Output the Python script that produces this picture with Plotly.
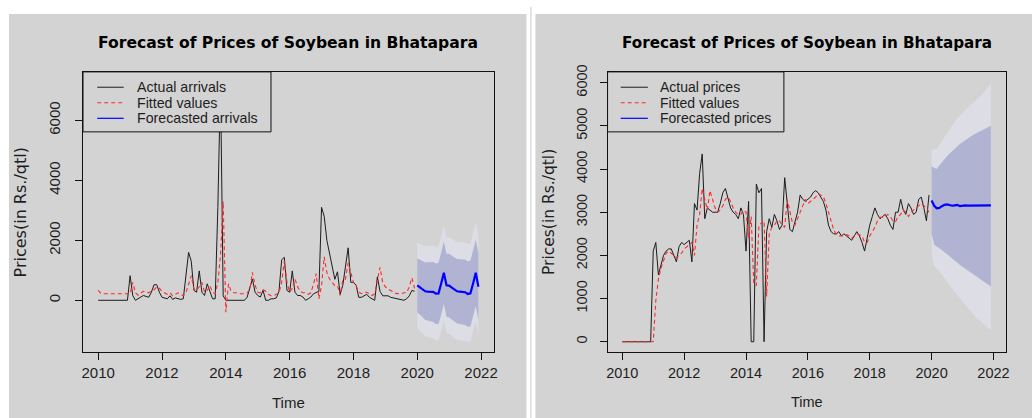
import numpy as np
import plotly.graph_objects as go

# ---------------- data ----------------
# monthly series, Jan 2010 .. Dec 2019
arrivals = [
    0, 0, 0, 0, 0, 0, 0, 0, 0, 0, 0, 0,
    820, 160, 0, 50, 100, 160, 130, 100, 270, 520, 520, 270,
    100, 80, 50, 150, 30, 80, 50, 30, 50, 800, 1600, 1300,
    330, 270, 980, 270, 160, 550, 270, 50, 50, 3100, 7270, 150,
    0, 0, 0, 0, 0, 0, 0, 0, 100, 400, 710, 270,
    160, 110, 330, 0, 0, 50, 50, 80, 300, 1350, 1430, 330,
    270, 980, 270, 160, 160, 110, 0, 50, 110, 220, 270, 300,
    3100, 2800, 2000, 1600, 1200, 700, 950, 200, 500, 1200, 1750, 600,
    600, 500, 100, 100, 150, 200, 100, 50, 0, 780, 300, 150,
    150, 150, 100, 80, 50, 30, 0, 0, 50, 150, 330, 300,
]
fitted_arrivals = [
    330, 230, 220, 220, 220, 220, 220, 220, 220, 220, 220, 220,
    220, 600, 250, 170, 250, 300, 280, 250, 300, 350, 450, 400,
    300, 250, 200, 250, 150, 200, 250, 200, 150, 250, 500, 820,
    380, 330, 450, 600, 270, 330, 490, 270, 220, 600, 1500, 3300,
    -400, 550, 300, 250, 250, 220, 220, 220, 250, 350, 930, 500,
    270, 250, 350, 300, 200, 150, 150, 200, 250, 600, 1310, 600,
    270, 400, 710, 450, 300, 250, 250, 200, 250, 550, 890, 50,
    490, 1450, 930, 710, 600, 490, 490, 160, 690, 700, 1250, 930,
    600, 490, 270, 220, 270, 270, 220, 160, 220, 710, 1100, 600,
    450, 380, 330, 270, 230, 220, 220, 250, 250, 450, 750, 400,
]
# forecast Jan 2020 .. Dec 2021
fc_arrivals = [500, 430, 380, 300, 290, 290, 280, 220, 230, 560, 920, 500,
               490, 420, 360, 300, 290, 280, 270, 210, 230, 560, 920, 450]
hi80_arrivals = [1400, 1350, 1320, 1260, 1270, 1280, 1280, 1230, 1250, 1590, 1960, 1550,
                 1550, 1485, 1430, 1375, 1370, 1365, 1360, 1305, 1330, 1665, 2030, 1565]
lo80_arrivals = [-400, -490, -560, -660, -690, -700, -720, -790, -790, -470, -120, -550,
                 -570, -645, -710, -775, -790, -805, -820, -885, -870, -545, -190, -665]
hi95_arrivals = [1920, 1880, 1860, 1800, 1810, 1830, 1830, 1780, 1800, 2140, 2510, 2100,
                 2100, 2040, 1990, 1940, 1940, 1935, 1930, 1875, 1900, 2235, 2600, 2135]
lo95_arrivals = [-920, -1020, -1100, -1200, -1230, -1250, -1270, -1340, -1340, -1020, -670, -1100,
                 -1120, -1200, -1270, -1320, -1330, -1340, -1350, -1380, -1370, -1060, -700, -1200]

prices = [
    0, 0, 0, 0, 0, 0, 0, 0, 0, 0, 0, 0,
    2100, 2300, 1550, 1800, 2000, 2100, 2150, 2150, 2000, 1850, 2200, 2300,
    2250, 2300, 2350, 1850, 3200, 3050, 3900, 4350, 2850, 3100, 3050, 3000,
    3000, 3000, 3200, 3450, 3550, 3350, 3100, 3000, 2950, 2850, 3100, 2950,
    2100, 3250, 0, 0, 3650, 3450, 3550, 0, 2550, 2850, 2650, 2950,
    2800, 2600, 2700, 3800, 3100, 2600, 2550, 2800, 3000, 3400, 3300, 3250,
    3300, 3350, 3450, 3500, 3450, 3350, 3250, 3050, 2700, 2550, 2500, 2500,
    2550, 2450, 2500, 2450, 2400, 2350, 2450, 2550, 2450, 2300, 2100, 2400,
    2700, 2900, 3100, 2950, 2850, 2900, 2950, 2850, 2700, 2600, 3000, 3000,
    3300, 3050, 2950, 3200, 3100, 2950, 3000, 3300, 3350, 3100, 2800, 3400,
]
fitted_prices = [
    0, 0, 0, 0, 0, 0, 0, 0, 0, 0, 0, 0,
    0, 950, 1450, 1700, 1900, 2050, 2100, 2050, 2000, 1950, 2000, 2050,
    2150, 2200, 2250, 2300, 2000, 2700, 2950, 3550, 3300, 3050, 3500, 3300,
    3100, 3000, 3050, 3150, 3300, 3350, 3250, 3100, 3000, 2950, 2950, 3050,
    3000, 2400, 2900, 1350, 1300, 2700, 2750, 2800, 1050, 2500, 2650, 2700,
    2800, 2800, 2700, 2650, 3300, 3000, 2750, 2700, 2850, 3000, 3150, 3300,
    3200, 3250, 3300, 3350, 3430, 3400, 3360, 3200, 3000, 2800, 2600, 2480,
    2450, 2450, 2470, 2480, 2450, 2400, 2450, 2500, 2480, 2450, 2300, 2300,
    2450, 2550, 2650, 2800, 2880, 2880, 2900, 2950, 2900, 2800, 2780, 2900,
    2950, 3050, 3000, 2900, 3000, 3050, 3100, 3150, 3200, 3150, 3100, 3000,
]
fc_prices = [3270, 3150, 3090, 3100, 3140, 3170, 3180, 3160, 3150, 3160, 3170, 3140,
             3155, 3160, 3155, 3155, 3158, 3157, 3157, 3157, 3157, 3157, 3157, 3157]
hi80_prices = [4060, 4030, 4000, 4080, 4160, 4230, 4300, 4360, 4420, 4480, 4540, 4580,
               4620, 4670, 4710, 4750, 4790, 4820, 4850, 4880, 4910, 4940, 4970, 5000]
lo80_prices = [2500, 2250, 2200, 2170, 2130, 2080, 2030, 1980, 1920, 1870, 1830, 1780,
               1740, 1700, 1650, 1610, 1570, 1520, 1480, 1440, 1400, 1360, 1320, 1280]
hi95_prices = [4440, 4450, 4470, 4560, 4650, 4750, 4850, 4930, 5010, 5100, 5170, 5240,
               5300, 5370, 5420, 5470, 5530, 5590, 5640, 5700, 5760, 5830, 5900, 6000]
lo95_prices = [2050, 1760, 1690, 1640, 1560, 1480, 1400, 1310, 1230, 1150, 1070, 990,
               920, 850, 780, 710, 640, 580, 520, 460, 410, 360, 310, 270]

year_ticks = [2010, 2012, 2014, 2016, 2018, 2020, 2022]
left_yticks = [0, 2000, 4000, 6000]
right_yticks = [0, 1000, 2000, 3000, 4000, 5000, 6000]

title_text = "Forecast of Prices of Soybean in Bhatapara"
ylabel_text = "Prices(in Rs./qtl)"
legend_left = ["Actual arrivals", "Fitted values", "Forecasted arrivals"]
legend_right = ["Actual prices", "Fitted values", "Forecasted prices"]

# monthly time index (decimal years)
t_hist = 2010 + np.arange(len(arrivals)) / 12
t_fc = 2020 + np.arange(len(fc_arrivals)) / 12

# ---------------- styling ----------------
W, H = 1036, 418
PANEL_BG = "#D3D3D3"
LIGHT_BAND = "#DDDDE5"
DARK_BAND = "#B0B4D2"
BLACK = "#1c1c1c"
RED = "#FF2A2A"
BLUE = "#0000FF"
TXT = "#1e1e1e"
FONT = "Liberation Sans"


def px_x(p):
    return p / W


def px_y(p):
    return 1 - p / H


fig = go.Figure()


def add_panel(xa, ya, actual, fitted, fc, hi80, lo80, hi95, lo95):
    band_x = list(t_fc) + list(t_fc[::-1])
    fig.add_trace(go.Scatter(x=band_x, y=list(hi95) + list(lo95[::-1]), fill="toself",
                             fillcolor=LIGHT_BAND, line=dict(width=0), mode="lines",
                             hoverinfo="skip", showlegend=False, xaxis=xa, yaxis=ya))
    fig.add_trace(go.Scatter(x=band_x, y=list(hi80) + list(lo80[::-1]), fill="toself",
                             fillcolor=DARK_BAND, line=dict(width=0), mode="lines",
                             hoverinfo="skip", showlegend=False, xaxis=xa, yaxis=ya))
    fig.add_trace(go.Scatter(x=t_hist, y=actual, mode="lines",
                             line=dict(color=BLACK, width=1), showlegend=False,
                             xaxis=xa, yaxis=ya))
    fig.add_trace(go.Scatter(x=t_fc, y=fc, mode="lines",
                             line=dict(color=BLUE, width=2.2), showlegend=False,
                             xaxis=xa, yaxis=ya))
    fig.add_trace(go.Scatter(x=t_hist, y=fitted, mode="lines",
                             line=dict(color=RED, width=1.1, dash="4px,3px"),
                             showlegend=False, xaxis=xa, yaxis=ya))


add_panel("x", "y", arrivals, fitted_arrivals, fc_arrivals,
          hi80_arrivals, lo80_arrivals, hi95_arrivals, lo95_arrivals)
add_panel("x2", "y2", prices, fitted_prices, fc_prices,
          hi80_prices, lo80_prices, hi95_prices, lo95_prices)

# plot boxes (pixel edges)
L1, R1 = 82.4, 495.0
L2, R2 = 609.5, 1009.5
TOP, BOT = 66.0, 351.0
XR = [2009.5233, 2022.3933]

axis_common = dict(showline=True, mirror=True, linecolor="#111111", linewidth=1,
                   ticks="outside", ticklen=7, tickwidth=1, tickcolor="#111111",
                   showgrid=False, zeroline=False, fixedrange=True)

fig.update_layout(
    width=W, height=H, margin=dict(l=0, r=0, t=0, b=0),
    paper_bgcolor="white", plot_bgcolor="rgba(0,0,0,0)", showlegend=False,
    xaxis=dict(domain=[px_x(L1), px_x(R1)], range=XR, anchor="y",
               tickvals=year_ticks, ticktext=[str(v) for v in year_ticks],
               tickfont=dict(family=FONT, size=15, color=TXT), ticklabelstandoff=0,
               **axis_common),
    yaxis=dict(domain=[px_y(BOT), px_y(TOP)], range=[-1728, 7616], anchor="x",
               tickvals=left_yticks, ticktext=[str(v) for v in left_yticks], tickangle=-90,
               tickfont=dict(family=FONT, size=15, color=TXT), ticklabelstandoff=9,
               **axis_common),
    xaxis2=dict(domain=[px_x(L2), px_x(R2)], range=XR, anchor="y2",
                tickvals=year_ticks, ticktext=[str(v) for v in year_ticks],
                tickfont=dict(family=FONT, size=14.5, color=TXT), ticklabelstandoff=0,
                **axis_common),
    yaxis2=dict(domain=[px_y(BOT), px_y(TOP)], range=[-240, 6250], anchor="x2",
                tickvals=right_yticks, ticktext=[str(v) for v in right_yticks], tickangle=-90,
                tickfont=dict(family=FONT, size=14.5, color=TXT), ticklabelstandoff=7,
                **axis_common),
)

shapes = [
    # panel backgrounds and the divider between them
    dict(type="rect", xref="paper", yref="paper", x0=px_x(8), x1=px_x(528), y0=0, y1=px_y(7),
         fillcolor=PANEL_BG, line=dict(width=0), layer="below"),
    dict(type="rect", xref="paper", yref="paper", x0=px_x(537), x1=1, y0=0, y1=px_y(7),
         fillcolor=PANEL_BG, line=dict(width=0), layer="below"),
    dict(type="line", xref="paper", yref="paper", x0=px_x(532.5), x1=px_x(532.5), y0=0, y1=1,
         line=dict(color="#C8C8C8", width=1), layer="below"),
]
annotations = []

LEG_ROWS = [81.6, 97.4, 113.2]
LEG_BOTTOM = 127.0


def add_legend(box_l, box_r, line_l, line_r, text_l, labels, size):
    shapes.append(dict(type="rect", xref="paper", yref="paper",
                       x0=px_x(box_l), x1=px_x(box_r), y0=px_y(LEG_BOTTOM), y1=px_y(TOP),
                       fillcolor=PANEL_BG, line=dict(color="#111111", width=1), layer="above"))
    styles = [dict(color=BLACK, width=1), dict(color=RED, width=1.1, dash="4px,3px"),
              dict(color=BLUE, width=1.2)]
    for row, sty, lab in zip(LEG_ROWS, styles, labels):
        shapes.append(dict(type="line", xref="paper", yref="paper",
                           x0=px_x(line_l), x1=px_x(line_r), y0=px_y(row), y1=px_y(row),
                           line=sty, layer="above"))
        annotations.append(dict(x=px_x(text_l), y=px_y(row), xref="paper", yref="paper",
                                text=lab, showarrow=False, xanchor="left", yanchor="middle",
                                borderpad=0, font=dict(family=FONT, size=size, color=TXT)))


add_legend(L1, 271.3, 96.7, 123.3, 136.0, legend_left, 14.2)
add_legend(L2, 786.7, 622.7, 650.0, 661.5, legend_right, 14.0)


def add_labels(cx, ylab_x, size, title_size):
    annotations.append(dict(x=px_x(cx), y=px_y(37), xref="paper", yref="paper",
                            text="<b>" + title_text + "</b>", showarrow=False,
                            xanchor="center", yanchor="middle",
                            font=dict(family="DejaVu Sans", size=title_size, color="#000000")))
    annotations.append(dict(x=px_x(cx), y=px_y(402), xref="paper", yref="paper",
                            text="Time", showarrow=False, xanchor="center", yanchor="middle",
                            font=dict(family=FONT, size=size, color=TXT)))
    annotations.append(dict(x=px_x(ylab_x), y=px_y((TOP + BOT) / 2), xref="paper", yref="paper",
                            text=ylabel_text, showarrow=False, textangle=-90,
                            xanchor="center", yanchor="middle",
                            font=dict(family="DejaVu Sans", size=size + 1, color=TXT)))


add_labels((L1 + R1) / 2, 19.5, 15, 15.6)
add_labels((L2 + R2) / 2, 550.7, 14.5, 15.2)

fig.update_layout(shapes=shapes, annotations=annotations)
fig.write_html("out.html")
